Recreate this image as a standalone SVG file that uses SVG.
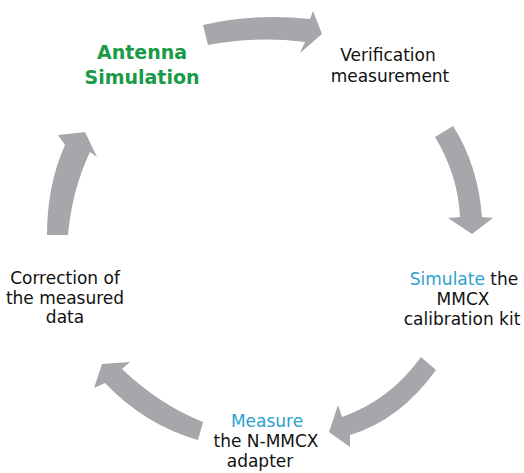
<svg xmlns="http://www.w3.org/2000/svg" width="524" height="473" viewBox="0 0 524 473">
<style>
.arr{fill:#a6a7aa;stroke:none}
.t{font-family:"DejaVu Sans",Verdana,sans-serif;font-size:17px;fill:#111;text-anchor:middle}
.g{font-family:"DejaVu Sans",Verdana,sans-serif;font-size:19px;font-weight:bold;fill:#1a9a48;text-anchor:middle}
.b{fill:#2b9fd1}
</style>
<rect width="524" height="473" fill="#fff"/>
<g id="connectors">
<path class="arr" d="M203,25 Q255,13 310,19 L313,11 L322,34 L300,53 L305,42 Q255,36 208,45 Z"/>
<path class="arr" d="M435,137 L453,126 Q478,165 482,217 L493,218 L472,234 L448,218 L460,217 Q458,175 435,137 Z"/>
<path class="arr" d="M421,357 L436,370 Q400,420 350,435 L350,447 L329,432 L338,405 L342,417 Q390,400 421,357 Z"/>
<path class="arr" d="M203,422 Q160,405 122,369 L130,362 L102,364 L94,388 L105,383 Q145,425 198,440 Z"/>
<path class="arr" d="M47,235 Q47,185 65,145 L58,135 L85,132 L97,157 L90,152 Q72,190 68,235 Z"/>
</g>
<g id="antenna-simulation">
<text class="g" x="142" y="59">Antenna</text>
<text class="g" x="142" y="84">Simulation</text>
</g>
<g id="verification">
<text class="t" x="388" y="61">Verification</text>
<text class="t" x="390" y="82">measurement</text>
</g>
<g id="simulate-kit">
<text class="t" x="464" y="285"><tspan class="b">Simulate</tspan> the</text>
<text class="t" x="463" y="305">MMCX</text>
<text class="t" x="462" y="325">calibration kit</text>
</g>
<g id="measure-adapter">
<text class="t b" x="267" y="427">Measure</text>
<text class="t" x="266" y="447">the N-MMCX</text>
<text class="t" x="260" y="467">adapter</text>
</g>
<g id="correction">
<text class="t" x="65" y="284">Correction of</text>
<text class="t" x="65" y="304">the measured</text>
<text class="t" x="65" y="323">data</text>
</g>
</svg>
